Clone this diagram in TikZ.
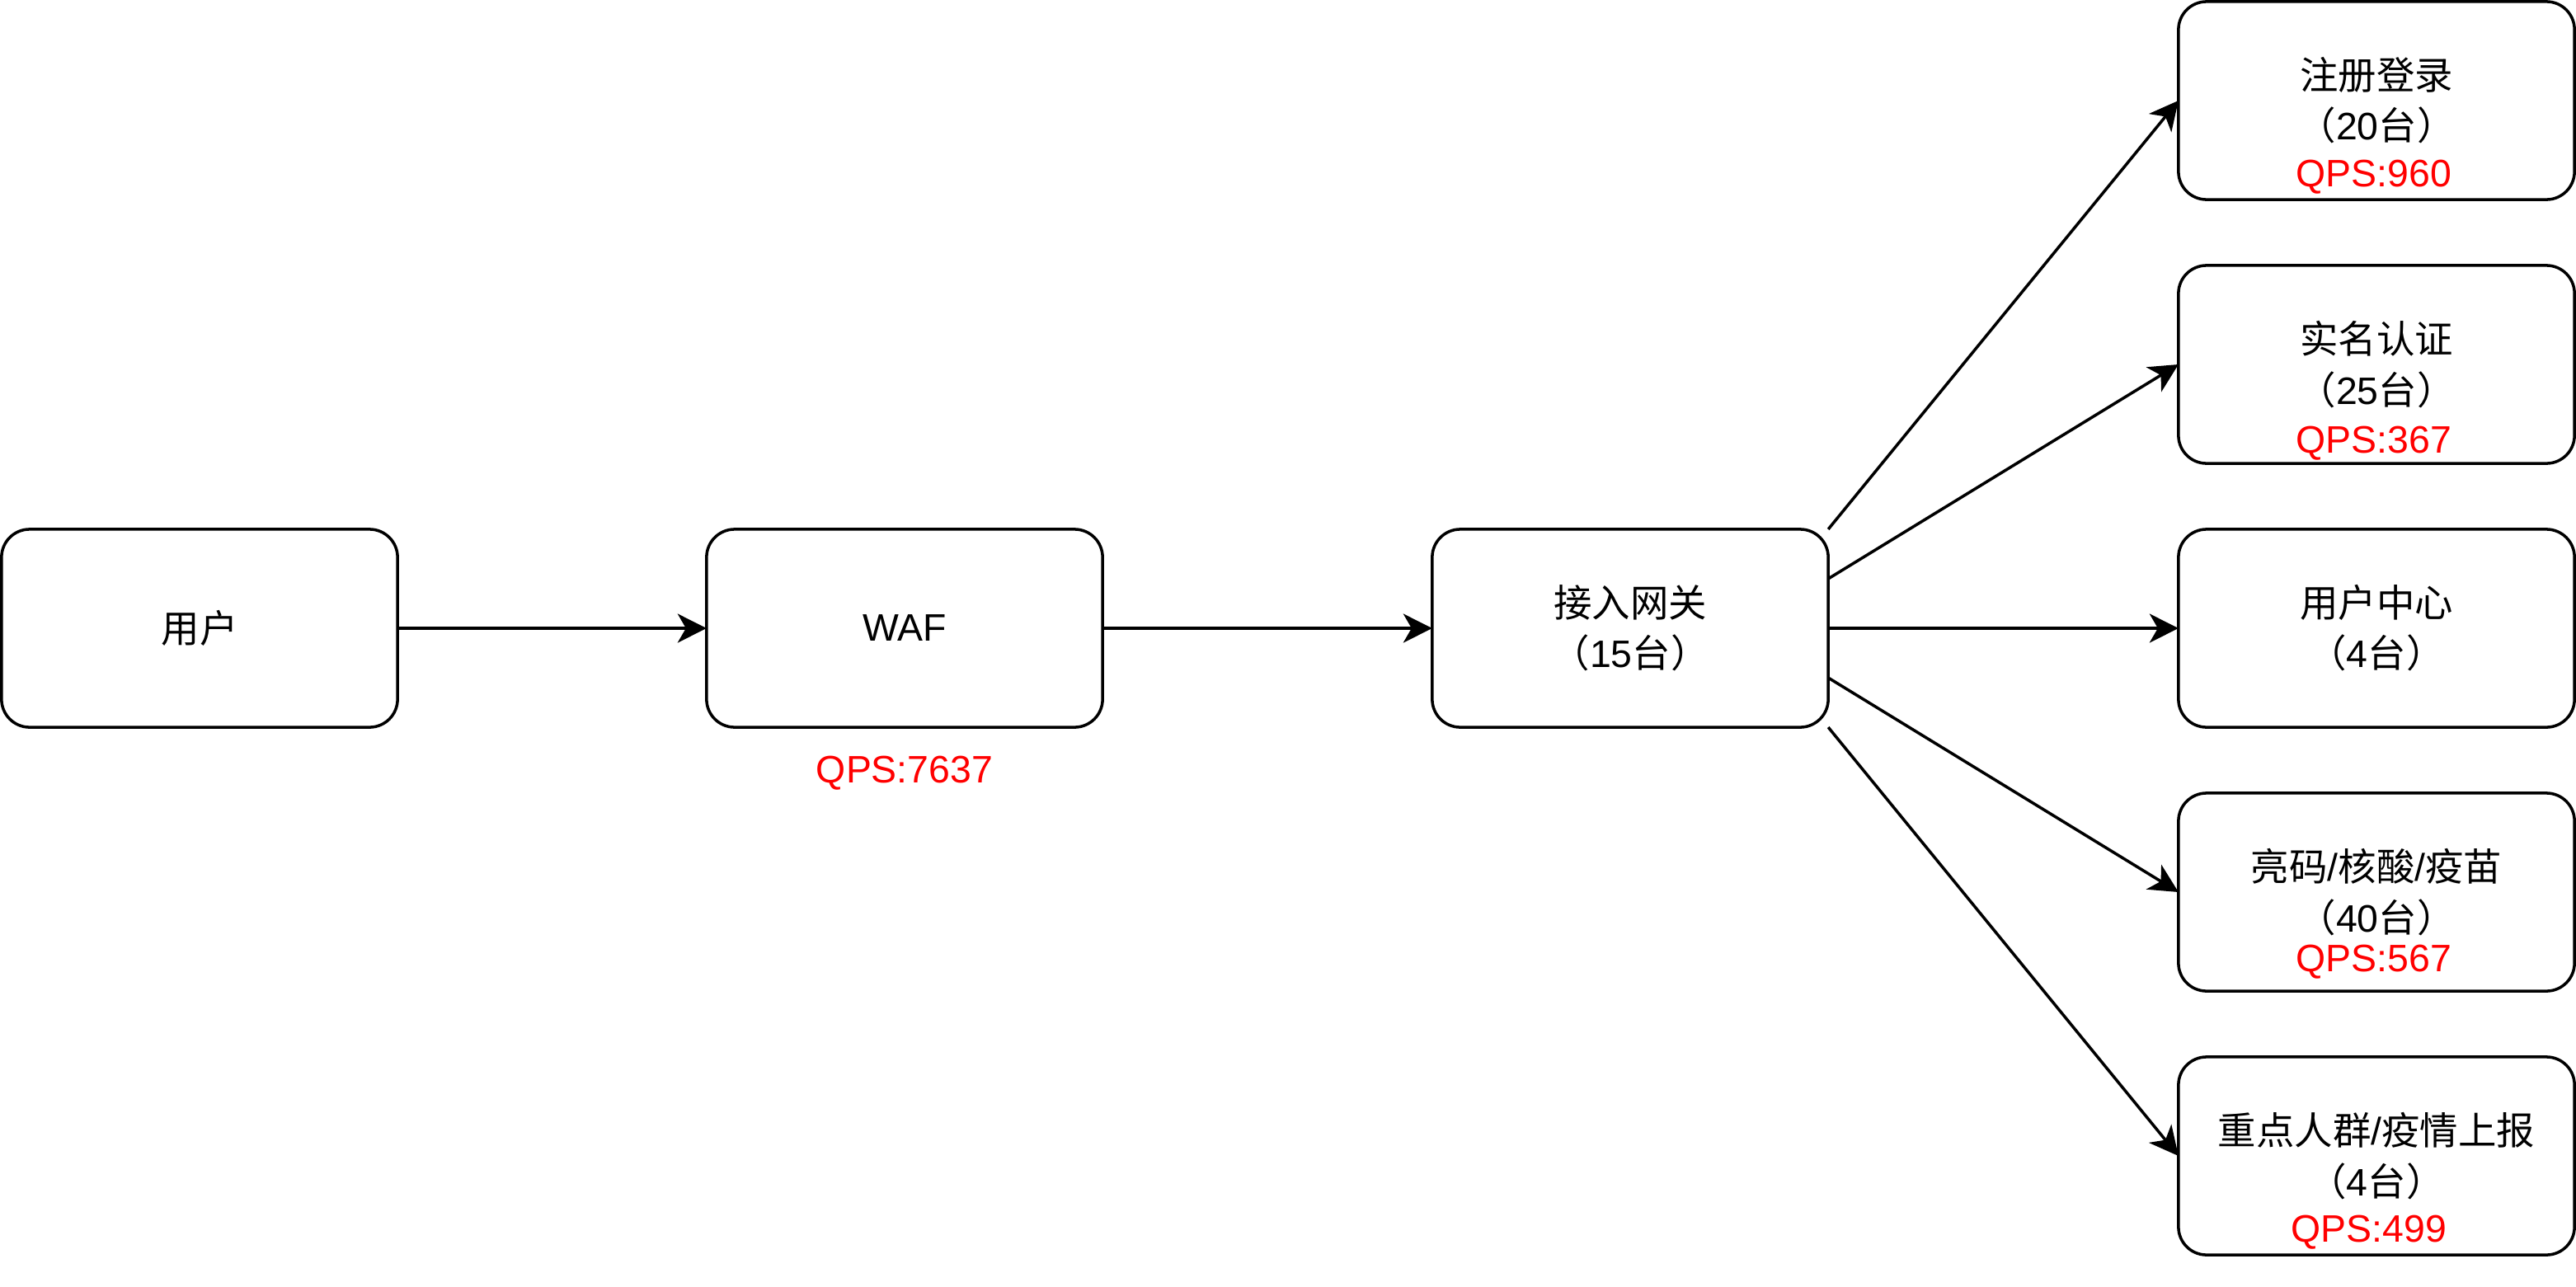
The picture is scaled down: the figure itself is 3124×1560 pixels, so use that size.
\documentclass[tikz,border=0pt]{standalone}
\usepackage{fontspec}
\setmainfont{Liberation Sans}
\newfontfamily\cjk{Noto Sans CJK SC}
\newcommand\zh[1]{{\cjk #1}}
\usetikzlibrary{arrows.meta}
\definecolor{qpsred}{RGB}{255,0,0}
\begin{document}
\begin{tikzpicture}[x=0.01cm,y=-0.01cm,
  box/.style={draw=black, line width=1pt, rounded corners=0.34cm, fill=white,
    minimum width=4.8cm, minimum height=2.4cm, inner sep=0pt, outer sep=0pt,
    align=center, font=\fontsize{13.2pt}{17.4pt}\selectfont},
  qps/.style={text=qpsred, inner sep=0pt, font=\fontsize{13.2pt}{16pt}\selectfont},
  link/.style={draw=black, line width=1pt, -{Stealth[length=0.35cm, width=0.35cm, inset=0.1cm]}}]
\useasboundingbox (0,0) rectangle (3124,1560);
\node[box] (u) at (242,762) {\zh{用户}};
\node[box] (waf) at (1097,762) {WAF};
\node[box] (gw) at (1977,762) {\zh{接入网关}\\\zh{（}15\zh{台）}};
\node[box] (r1) at (2882,122) {\zh{注册登录}\\\zh{（}20\zh{台）}};
\node[box] (r2) at (2882,442) {\zh{实名认证}\\\zh{（}25\zh{台）}};
\node[box] (r3) at (2882,762) {\zh{用户中心}\\\zh{（}4\zh{台）}};
\node[box] (r4) at (2882,1082) {\zh{亮码}/\zh{核酸}/\zh{疫苗}\\\zh{（}40\zh{台）}};
\node[box] (r5) at (2882,1402) {\zh{重点人群}/\zh{疫情上报}\\\zh{（}4\zh{台）}};
\node[qps] (q0) at (1097,938) {QPS:7637};
\node[qps] (q1) at (2879,215) {QPS:960};
\node[qps] (q2) at (2879,538) {QPS:367};
\node[qps] (q4) at (2879,1167) {QPS:567};
\node[qps] (q5) at (2873,1495) {QPS:499};
\draw[link] (u.east) -- (waf.west);
\draw[link] (waf.east) -- (gw.west);
\draw[link] (gw.north east) -- (r1.west);
\draw[link] ([yshift=0.6cm]gw.east) -- (r2.west);
\draw[link] (gw.east) -- (r3.west);
\draw[link] ([yshift=-0.6cm]gw.east) -- (r4.west);
\draw[link] (gw.south east) -- (r5.west);
\end{tikzpicture}
\end{document}
